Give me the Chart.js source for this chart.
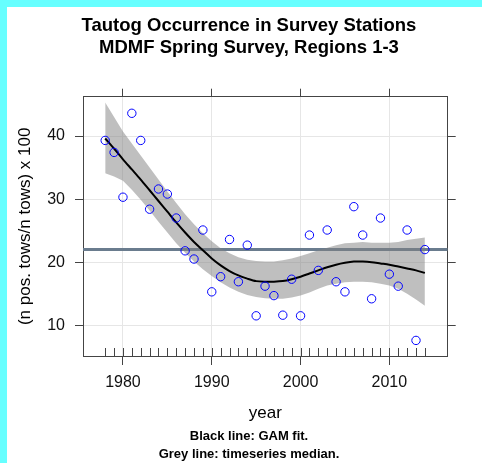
<!DOCTYPE html>
<html>
<head>
<meta charset="utf-8">
<title>Tautog Occurrence in Survey Stations</title>
<script src="https://cdn.jsdelivr.net/npm/chart.js@4/dist/chart.umd.min.js"></script>
<style>
    body{ margin:0; background:#fff; }
    #box{ position:relative; width:482px; height:463px; overflow:hidden; }
    #graf{ position:absolute; left:0; top:0; }
    .borda{ position:absolute; background:#66ffff; }
</style>
</head>
<body>
<div id="box">
    <canvas id="graf" width="482" height="463"></canvas>
    <div class="borda" style="left:0;top:0;width:7px;height:463px"></div>
    <div class="borda" style="left:0;top:0;width:482px;height:7px"></div>
</div>
<script>

// dados
var anos = [1978,1979,1980,1981,1982,1983,1984,1985,1986,1987,1988,1989,1990,1991,1992,1993,1994,1995,1996,
            1997,1998,1999,2000,2001,2002,2003,2004,2005,2006,2007,2008,2009,2010,2011,2012,2013,2014]

var ocorrencia = [39.3,37.4,30.3,43.6,39.3,28.4,31.6,30.8,27.0,21.8,20.5,25.1,15.3,17.7,23.6,16.9,22.7,11.5,16.2,
                  14.7,11.6,17.3,11.5,24.3,18.7,25.1,16.9,15.3,28.8,24.3,14.2,27.0,18.1,16.2,25.1,7.6,22.0]

var gamAjuste = [39.6,38.0,36.3,34.7,33.1,31.4,29.7,28.0,26.3,24.7,23.2,21.9,20.6,19.5,18.6,17.9,17.4,17.0,16.9,
                 16.9,17.0,17.3,17.7,18.2,18.7,19.2,19.6,19.9,20.1,20.1,20.0,19.8,19.6,19.3,19.0,18.7,18.3]

var gamSup = [45.3,43.0,40.7,38.8,36.9,35.0,33.1,31.2,29.4,27.6,26.0,24.6,23.3,22.2,21.4,20.8,20.4,20.2,20.1,
              20.1,20.3,20.6,21.0,21.4,21.9,22.3,22.7,23.0,23.1,23.2,23.1,23.1,23.1,23.2,23.5,23.7,23.9]

var gamInf = [34.1,33.6,32.9,31.5,29.9,28.2,26.4,24.7,23.0,21.5,20.1,18.9,17.8,16.8,16.0,15.3,14.8,14.5,14.3,
              14.2,14.2,14.4,14.7,15.2,15.8,16.3,16.6,16.8,16.9,16.9,16.8,16.6,16.3,15.8,15.0,14.1,13.1]

var ticksAno = [1980,1990,2000,2010]
var ticksValor = [10,20,30,40]

var X_MIN = 1975.5
var X_MAX = 2016.57
var Y_MIN = 5.13
var Y_MAX = 46.23

var COR_EIXO = '#444'
var COR_GRADE = '#e6e6e6'

/**
 * @description: mediana da serie (linha cinza)
*/
function mediana(lista){
    var s = lista.slice().sort(function(a,b){ return a-b })
    var m = Math.floor(s.length/2)
    return s.length % 2 ? s[m] : (s[m-1]+s[m])/2
}

function pontos(valores){
    return anos.map(function(a,i){ return {x:a, y:valores[i]} })
}

function fixarTicks(lista){
    return function(scale){
        scale.ticks = lista.map(function(v){ return {value:v} })
    }
}

/**
 * @description: marcas dos anos (rug) na base do painel
*/
var rugPlugin = {
    id:'rug',
    afterDraw: function(chart){
        var ctx = chart.ctx
        var x = chart.scales.x
        var base = chart.chartArea.bottom
        ctx.save()
        ctx.strokeStyle = COR_EIXO
        ctx.lineWidth = 1
        ctx.beginPath()
        anos.forEach(function(a){
            var px = Math.round(x.getPixelForValue(a)) + 0.5
            ctx.moveTo(px, base)
            ctx.lineTo(px, base - 8)
        })
        ctx.stroke()
        ctx.restore()
    }
}

function gerarGrafico(){
    var med = mediana(ocorrencia)

    Chart.defaults.font.family = "'Liberation Sans', Arial, sans-serif"

    new Chart(
        document.getElementById('graf').getContext('2d'),
        {
            type:'line',
            data:{
                datasets:[
                    {
                        label:'observado',
                        data: pontos(ocorrencia),
                        showLine:false,
                        pointRadius:4.2,
                        pointBorderWidth:1,
                        pointBorderColor:'#0000ff',
                        pointBackgroundColor:'rgba(0,0,0,0)',
                        order:1
                    },
                    {
                        label:'GAM',
                        data: pontos(gamAjuste),
                        borderColor:'#000',
                        borderWidth:2,
                        pointRadius:0,
                        tension:0.3,
                        fill:false,
                        order:2
                    },
                    {
                        label:'inf',
                        data: pontos(gamInf),
                        borderWidth:0,
                        borderColor:'rgba(0,0,0,0)',
                        pointRadius:0,
                        fill:false,
                        order:3
                    },
                    {
                        label:'sup',
                        data: pontos(gamSup),
                        borderWidth:0,
                        borderColor:'rgba(0,0,0,0)',
                        backgroundColor:'rgba(128,128,128,0.5)',
                        pointRadius:0,
                        fill:'-1',
                        order:3
                    },
                    {
                        label:'mediana',
                        data:[{x:X_MIN, y:med},{x:X_MAX, y:med}],
                        borderColor:'#6a7c8e',
                        borderWidth:3,
                        pointRadius:0,
                        fill:false,
                        order:4
                    }
                ]
            },
            options:{
                responsive:false,
                animation:false,
                layout:{ padding:{left:16, right:0, top:0, bottom:0} },
                plugins:{
                    legend:{ display:false },
                    tooltip:{ enabled:false },
                    title:{
                        display:true,
                        text:['Tautog Occurrence in Survey Stations','MDMF Spring Survey, Regions 1-3'],
                        color:'#000',
                        font:{ size:18.5, weight:'bold', lineHeight:22/18.5 },
                        padding:{ top:15, bottom:0 }
                    },
                    subtitle:{
                        display:true,
                        position:'bottom',
                        text:['Black line: GAM fit.','Grey line: timeseries median.'],
                        color:'#000',
                        font:{ size:13, weight:'bold', lineHeight:18/13 },
                        padding:{ top:0, bottom:0 }
                    }
                },
                scales:{
                    x:{
                        type:'linear',
                        position:'bottom',
                        min:X_MIN, max:X_MAX,
                        afterBuildTicks: fixarTicks(ticksAno),
                        afterFit: function(s){ s.height = 71 },
                        grid:{ color:COR_GRADE, tickColor:COR_EIXO, tickLength:9 },
                        border:{ color:COR_EIXO, width:1 },
                        ticks:{
                            color:'#111', font:{size:16}, padding:8.4, maxRotation:0, autoSkip:false,
                            callback: function(v){ return String(v) }
                        },
                        title:{ display:true, text:'year', color:'#000', font:{size:17}, padding:{top:0, bottom:3.8} }
                    },
                    x2:{
                        type:'linear',
                        position:'top',
                        min:X_MIN, max:X_MAX,
                        afterBuildTicks: fixarTicks(ticksAno),
                        afterFit: function(s){ s.height = 37.7 },
                        grid:{ drawOnChartArea:false, tickColor:COR_EIXO, tickLength:8 },
                        border:{ color:COR_EIXO, width:1 },
                        ticks:{ display:false }
                    },
                    y:{
                        type:'linear',
                        position:'left',
                        min:Y_MIN, max:Y_MAX,
                        afterBuildTicks: fixarTicks(ticksValor),
                        afterFit: function(s){ s.width = 67 },
                        grid:{ color:COR_GRADE, tickColor:COR_EIXO, tickLength:8 },
                        border:{ color:COR_EIXO, width:1 },
                        ticks:{ color:'#111', font:{size:16}, padding:10 },
                        title:{ display:true, text:'(n pos. tows/n tows) x 100', color:'#000', font:{size:17}, padding:{top:-1.2, bottom:0} }
                    },
                    y2:{
                        type:'linear',
                        position:'right',
                        min:Y_MIN, max:Y_MAX,
                        afterBuildTicks: fixarTicks(ticksValor),
                        afterFit: function(s){ s.width = 34.3 },
                        grid:{ drawOnChartArea:false, tickColor:COR_EIXO, tickLength:8 },
                        border:{ color:COR_EIXO, width:1 },
                        ticks:{ display:false }
                    }
                }
            },
            plugins:[rugPlugin]
        }
    )
}

gerarGrafico()
</script>
</body>
</html>
